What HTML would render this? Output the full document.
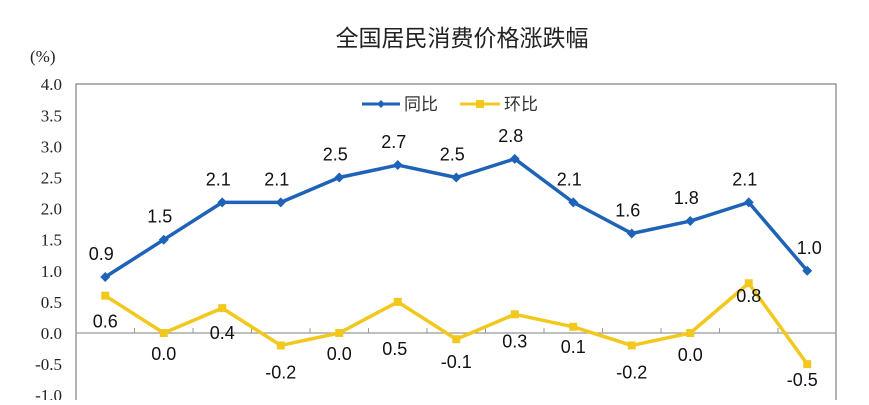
<!DOCTYPE html>
<html><head><meta charset="utf-8"><style>
body{margin:0;background:#fff;width:869px;height:400px;overflow:hidden;font-family:"Liberation Sans","Noto Sans CJK SC",sans-serif}
</style></head><body>
<svg width="869" height="400">
<text x="462" y="46" text-anchor="middle" font-size="23" font-family="Liberation Sans, Noto Sans CJK SC, sans-serif" fill="#222">全国居民消费价格涨跌幅</text>
<text x="30" y="62" font-size="17" font-family="Liberation Serif, serif" fill="#222">(%)</text>
<rect x="76" y="84" width="760" height="320" fill="none" stroke="#999" stroke-width="1.5"/>
<g id="yt"></g><g id="ser"></g>
<g>
<line x1="362" y1="104" x2="400" y2="104" stroke="#1f63b8" stroke-width="3"/>
<path d="M381 100 L385 104 L381 108 L377 104Z" fill="#1f63b8"/>
<text x="404" y="110" font-size="17" fill="#333">同比</text>
<line x1="460" y1="104" x2="500" y2="104" stroke="#f2c81c" stroke-width="3"/>
<rect x="476" y="100" width="8" height="8" fill="#f2c81c"/>
<text x="504" y="110" font-size="17" fill="#333">环比</text>
</g>
</svg>
<script>
const ticks=["4.0","3.5","3.0","2.5","2.0","1.5","1.0","0.5","0.0","-0.5","-1.0"];
const yoy=[0.9,1.5,2.1,2.1,2.5,2.7,2.5,2.8,2.1,1.6,1.8,2.1,1.0];
const mom=[0.6,0.0,0.4,-0.2,0.0,0.5,-0.1,0.3,0.1,-0.2,0.0,0.8,-0.5];
const momDy=[26,21,25,27,21,47,23,27,20,27,22,13,16];
const momDx=[0,0,0,0,0,-3,0,0,0,0,0,0,-5];
const NS="http://www.w3.org/2000/svg";
const x0=76,cw=58.5,y0=333,k=62.2;
const X=i=>x0+cw*(i+0.5), Y=v=>y0-v*k;
function el(t,a,p){const e=document.createElementNS(NS,t);for(const q in a)e.setAttribute(q,a[q]);p.appendChild(e);return e;}
const yt=document.getElementById('yt'),ser=document.getElementById('ser');
ticks.forEach(t=>{const e=el('text',{x:62,y:Y(parseFloat(t))+6,'text-anchor':'end','font-size':17,'font-family':'Liberation Serif, serif',fill:'#222'},yt);

e.textContent=t;});
const z=el('line',{x1:x0,x2:836,y1:Y(0),y2:Y(0),stroke:'#999','stroke-width':1.2},yt);


for(let i=1;i<13;i++){const t=el('line',{x1:x0+cw*i,x2:x0+cw*i,y1:Y(0)-5,y2:Y(0),stroke:'#999'},yt);

}
function line(d,c,name){const p=el('polyline',{points:d.map((v,i)=>X(i)+','+Y(v)).join(' '),fill:'none',stroke:c,'stroke-width':3.5,'stroke-linejoin':'round'},ser);

}
line(yoy,'#1f63b8','yoy-line');line(mom,'#f2c81c','mom-line');
yoy.forEach((v,i)=>{const x=X(i),y=Y(v);
const m=el('path',{d:`M${x} ${y-5}L${x+5} ${y}L${x} ${y+5}L${x-5} ${y}Z`,fill:'#1f63b8'},ser);


const t=el('text',{x:i==12?x+2:x-4,y:y-17,'text-anchor':'middle','font-size':18,fill:'#111'},ser);

t.textContent=v.toFixed(1);});
mom.forEach((v,i)=>{const x=X(i),y=Y(v);
const m=el('rect',{x:x-4,y:y-4,width:8,height:8,fill:'#f2c81c'},ser);


const t=el('text',{x:x+momDx[i],y:y+momDy[i]+6,'text-anchor':'middle','font-size':18,fill:'#111'},ser);

t.textContent=v.toFixed(1);});
</script>
</body></html>
